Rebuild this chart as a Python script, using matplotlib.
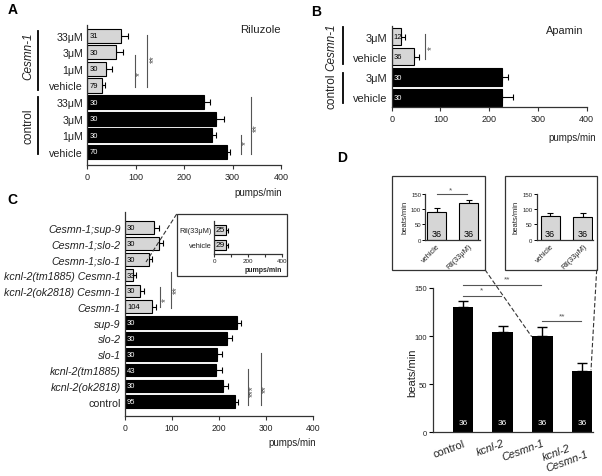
import numpy as np
import matplotlib.pyplot as plt
from matplotlib.lines import Line2D
from matplotlib.patches import Rectangle
from matplotlib.transforms import ScaledTranslation

plt.rcParams['font.family'] = ['Liberation Sans', 'DejaVu Sans']

W, H = 602, 477

# ---- panel A: riluzole ----
a_doses = ['33μM', '3μM', '1μM', 'vehicle']
a_mut_mean = [70, 60, 38, 31]
a_mut_err = [15, 14, 12, 6]
a_mut_n = [31, 30, 30, 79]
a_ctl_mean = [241, 266, 258, 288]
a_ctl_err = [12, 16, 8, 7]
a_ctl_n = [30, 30, 30, 70]

# ---- panel B: apamin ----
b_doses = ['3μM', 'vehicle']
b_mut_mean = [19, 46]
b_mut_err = [9, 9]
b_mut_n = [12, 36]
b_ctl_mean = [227, 227]
b_ctl_err = [11, 21]
b_ctl_n = [30, 30]

# ---- panel C: double mutants ----
c_labels = ['Cesmn-1;sup-9', 'Cesmn-1;slo-2', 'Cesmn-1;slo-1',
            'kcnl-2(tm1885) Cesmn-1', 'kcnl-2(ok2818) Cesmn-1', 'Cesmn-1',
            'sup-9', 'slo-2', 'slo-1', 'kcnl-2(tm1885)', 'kcnl-2(ok2818)',
            'control']
c_mean = [63, 74, 52, 17, 32, 59, 238, 217, 196, 194, 210, 235]
c_err = [11, 8, 7, 6, 8, 7, 10, 11, 11, 13, 10, 5]
c_n = [30, 30, 30, 33, 30, 104, 30, 30, 30, 43, 30, 95]
c_ngray = 6

ci_labels = ['Ril(33μM)', 'vehicle']
ci_mean = [67, 69]
ci_err = [16, 14]
ci_n = [25, 29]

# ---- panel D: heart rate ----
d_labels = ['control', 'kcnl-2', 'Cesmn-1', 'kcnl-2\nCesmn-1']
d_mean = [130, 104, 100, 64]
d_err = [7, 6, 9, 8]
d_n = [36, 36, 36, 36]

di_labels = ['vehicle', 'Ril(33μM)']
di1_mean = [91, 120]
di1_err = [11, 9]
di2_mean = [78, 75]
di2_err = [8, 11]
di_n = [36, 36]

GRAY = '#d6d6d6'
TXT = '#222222'
SIG = '#555555'

fig = plt.figure(figsize=(W / 100, H / 100), dpi=100)


def fx(p):
    return p / W


def fy(p):
    return 1 - p / H


def px_axes(x0, x1, y0, y1):
    return fig.add_axes([x0 / W, 1 - y1 / H, (x1 - x0) / W, (y1 - y0) / H])


def fline(x0, y0, x1, y1, **kw):
    fig.add_artist(Line2D([fx(x0), fx(x1)], [fy(y0), fy(y1)],
                          transform=fig.transFigure, **kw))


def ftext(x, y, s, **kw):
    fig.text(fx(x), fy(y), s, **kw)


def style(ax):
    for s in ['top', 'right']:
        ax.spines[s].set_visible(False)
    for s in ['left', 'bottom']:
        ax.spines[s].set_linewidth(0.9)
        ax.spines[s].set_color('#333333')


def hbars(ax, means, errs, ns, colors, height, nsize=5.5, cap=2.5, nx=4):
    y = np.arange(len(means))
    ax.barh(y, means, height=height, color=colors, edgecolor='black',
            linewidth=0.8, zorder=2)
    ax.errorbar(means, y, xerr=[np.zeros(len(means)), errs], fmt='none',
                ecolor='black', elinewidth=0.8, capsize=cap, capthick=0.8,
                zorder=1)
    for yi, n, c in zip(y, ns, colors):
        ax.text(nx, yi, str(n), va='center', ha='left', fontsize=nsize,
                color='white' if c == 'black' else 'black', zorder=3)
    style(ax)
    ax.set_xlim(0, 400)
    ax.set_xticks([0, 100, 200, 300, 400])
    ax.tick_params(axis='x', direction='out', length=3, width=0.8,
                   labelsize=6.5, colors='#333333', labelcolor=TXT, pad=2)
    ax.tick_params(axis='y', length=0, pad=3, labelcolor=TXT)
    ax.set_yticks(y)


def sig_v(ax, x, y0, y1, s, tx, ty, size=7):
    ax.plot([x, x], [y0, y1], color=SIG, lw=0.8, clip_on=False)
    ax.text(tx, ty, s, rotation=90, ha='center', va='center', fontsize=size,
            color=SIG, clip_on=False)


# ================= panel A =================
axA = px_axes(87.3, 281, 26, 165.7)
a_means = a_mut_mean + a_ctl_mean
a_cols = [GRAY] * 4 + ['black'] * 4
hbars(axA, a_means, a_mut_err + a_ctl_err, a_mut_n + a_ctl_n, a_cols, 0.85)
axA.set_ylim(7.78, -0.65)
axA.set_yticklabels(a_doses * 2, fontsize=7.7)
sig_v(axA, 98, 1.15, 3.1, '*', 109, 2.25)
sig_v(axA, 122.6, -0.04, 3.1, '**', 137, 1.36)
sig_v(axA, 316.7, 6.0, 7.16, '*', 327, 6.43)
sig_v(axA, 338, 3.72, 7.16, '**', 350, 5.49)
ftext(281.7, 192.7, 'pumps/min', ha='right', va='center', fontsize=7, color=TXT)
ftext(260.5, 30, 'Riluzole', ha='center', va='center', fontsize=8.2, color=TXT)
fline(38.3, 31.7, 38.3, 90.7, color='black', lw=1.3)
fline(38.3, 97.7, 38.3, 155.3, color='black', lw=1.3)
ftext(28, 56, 'Cesmn-1', rotation=90, ha='center', va='center',
      fontsize=8.5, style='italic', color=TXT)
ftext(28, 126, 'control', rotation=90, ha='center', va='center',
      fontsize=8.5, color=TXT)
ftext(12.5, 10.5, 'A', ha='center', va='center', fontsize=10,
      fontweight='bold')

# ================= panel B =================
axB = px_axes(391.7, 586.7, 27, 108.3)
b_cols = [GRAY] * 2 + ['black'] * 2
hbars(axB, b_mut_mean + b_ctl_mean, b_mut_err + b_ctl_err,
      b_mut_n + b_ctl_n, b_cols, 0.85, nx=3)
axB.set_ylim(3.5, -0.53)
axB.set_yticklabels(b_doses * 2, fontsize=7.9)
sig_v(axB, 69, -0.13, 1.1, '*', 83, 0.52)
ftext(596, 137.7, 'pumps/min', ha='right', va='center', fontsize=7, color=TXT)
ftext(564.3, 31, 'Apamin', ha='center', va='center', fontsize=7.9, color=TXT)
fline(342.7, 28, 342.7, 65, color='black', lw=1.3)
fline(342.7, 74, 342.7, 104, color='black', lw=1.3)
ftext(331.7, 47, 'Cesmn-1', rotation=90, ha='center', va='center',
      fontsize=8.5, style='italic', color=TXT)
ftext(331.7, 91.7, 'control', rotation=90, ha='center', va='center',
      fontsize=8.5, color=TXT)
ftext(316, 12.5, 'B', ha='center', va='center', fontsize=10,
      fontweight='bold')

# ================= panel C =================
axC = px_axes(124.7, 312.7, 213, 417.3)
c_cols = [GRAY] * c_ngray + ['black'] * (len(c_mean) - c_ngray)
hbars(axC, c_mean, c_err, c_n, c_cols, 0.8, nx=5, cap=2.2)
axC.set_ylim(11.92, -0.99)
axC.set_yticklabels(c_labels, fontsize=7.7)
for lbl in axC.get_yticklabels():
    if lbl.get_text() != 'control':
        lbl.set_style('italic')
axC.tick_params(axis='x', labelsize=6.2)
sig_v(axC, 75.7, 3.75, 5.03, '*', 87, 4.5)
sig_v(axC, 99, 2.8, 5.07, '**', 110.6, 3.87)
sig_v(axC, 262, 8.93, 11.2, '***', 273.6, 10.3)
sig_v(axC, 289, 7.92, 11.2, '**', 300.6, 10.13)
ftext(268, 443, 'pumps/min', ha='left', va='center', fontsize=7, color=TXT)
ftext(12.5, 200, 'C', ha='center', va='center', fontsize=10,
      fontweight='bold')

# inset of panel C
fig.add_artist(Rectangle((fx(176.7), fy(277.3)), (286.7 - 176.7) / W,
                         (277.3 - 215) / H, transform=fig.transFigure,
                         fill=False, edgecolor='#333333', lw=0.9))
fline(176.7, 215, 146, 263, color='#333333', lw=0.8, ls=(0, (4, 2)))
axCi = px_axes(214.3, 282.3, 222, 255)
hbars(axCi, ci_mean, ci_err, ci_n, [GRAY, GRAY], 0.65, nsize=6, cap=1.8,
      nx=10)
axCi.set_ylim(1.59, -0.57)
axCi.set_yticklabels(ci_labels, fontsize=5.3)
axCi.set_xticks([0, 100, 200, 300, 400])
axCi.set_xticklabels(['0', '', '200', '', '400'])
axCi.tick_params(axis='x', labelsize=4.5, length=2, pad=1)
axCi.tick_params(axis='y', pad=2)
ftext(263, 270, 'pumps/min', ha='center', va='center', fontsize=5,
      fontweight='bold', color=TXT)

# ================= panel D =================
axD = px_axes(433.3, 592.7, 289, 433.3)
xd = np.arange(len(d_mean))
axD.bar(xd, d_mean, width=0.52, color='black', zorder=2)
axD.errorbar(xd, d_mean, yerr=[np.zeros(len(d_mean)), d_err], fmt='none',
             ecolor='black', elinewidth=1, capsize=3.5, capthick=1, zorder=1)
for xi, n in zip(xd, d_n):
    axD.text(xi, 10.4, str(n), ha='center', va='center', fontsize=6,
             color='white')
style(axD)
axD.set_xlim(-0.75, 3.27)
axD.set_ylim(0, 150)
axD.set_yticks([0, 50, 100, 150])
axD.set_xticks(xd)
axD.set_xticklabels(d_labels, rotation=20, ha='right',
                    rotation_mode='anchor', fontsize=7.8, color=TXT,
                    multialignment='left')
for i, lbl in enumerate(axD.get_xticklabels()):
    if i > 0:
        lbl.set_style('italic')
    if i == 3:
        lbl.set_transform(lbl.get_transform() +
                          ScaledTranslation(0.22, 0, fig.dpi_scale_trans))
axD.tick_params(axis='y', direction='out', length=3, width=0.8,
                labelsize=5.5, labelcolor=TXT, pad=1.5)
axD.tick_params(axis='x', length=0, pad=4)
axD.set_ylabel('beats/min', fontsize=8, color=TXT)
axD.yaxis.set_label_coords(-0.1, 0.42)
axD.plot([0, 0.95], [142, 142], color=SIG, lw=0.8, clip_on=False)
axD.text(0.47, 148, '*', ha='center', va='center', fontsize=6, color=SIG)
axD.plot([0, 1.96], [153, 153], color=SIG, lw=0.8, clip_on=False)
axD.text(1.1, 159, '**', ha='center', va='center', fontsize=6, color=SIG,
         clip_on=False)
axD.plot([2.0, 2.97], [115.4, 115.4], color=SIG, lw=0.8, clip_on=False)
axD.text(2.5, 121, '**', ha='center', va='center', fontsize=6, color=SIG)
ftext(342, 158, 'D', ha='center', va='center', fontsize=10,
      fontweight='bold')


def inset_d(x0, x1, means, errs, xlim, sig=False):
    ax = px_axes(x0, x1, 194.7, 240.7)
    xi = np.arange(len(means))
    ax.bar(xi, means, width=0.58, color=GRAY, edgecolor='black',
           linewidth=0.8, zorder=2)
    ax.errorbar(xi, means, yerr=[np.zeros(len(means)), errs], fmt='none',
                ecolor='black', elinewidth=0.8, capsize=2.2, capthick=0.8,
                zorder=1)
    for xx, n in zip(xi, di_n):
        ax.text(xx, 19.6, str(n), ha='center', va='center', fontsize=6.5,
                color='black', zorder=3)
    style(ax)
    ax.set_xlim(*xlim)
    ax.set_ylim(0, 150)
    ax.set_yticks([0, 50, 100, 150])
    ax.set_xticks(xi)
    ax.set_xticklabels(di_labels, rotation=45, ha='right',
                       rotation_mode='anchor', fontsize=5.3, color=TXT)
    ax.tick_params(axis='y', direction='out', length=2, width=0.7,
                   labelsize=4.3, labelcolor=TXT, pad=1)
    ax.tick_params(axis='x', length=0, pad=2)
    ax.set_ylabel('beats/min', fontsize=5.5, color=TXT, labelpad=2)
    if sig:
        ax.plot([0, 0.96], [150, 150], color=SIG, lw=0.8, clip_on=False)
        ax.text(0.42, 163, '*', ha='center', va='center', fontsize=6,
                color=SIG, clip_on=False)
    return ax


inset_d(425.3, 480, di1_mean, di1_err, (-0.35, 1.35), sig=True)
inset_d(536.7, 593.3, di2_mean, di2_err, (-0.41, 1.32))
for bx0, bx1 in [(392.3, 485), (505, 596.7)]:
    fig.add_artist(Rectangle((fx(bx0), fy(270.7)), (bx1 - bx0) / W,
                             (270.7 - 177.3) / H, transform=fig.transFigure,
                             fill=False, edgecolor='#333333', lw=0.9))
fline(485, 270.7, 531.7, 337.7, color='#333333', lw=0.8, ls=(0, (4, 2)))
fline(596.7, 270.7, 591, 371.3, color='#333333', lw=0.8, ls=(0, (4, 2)))

fig.savefig('out.png', dpi=100)
